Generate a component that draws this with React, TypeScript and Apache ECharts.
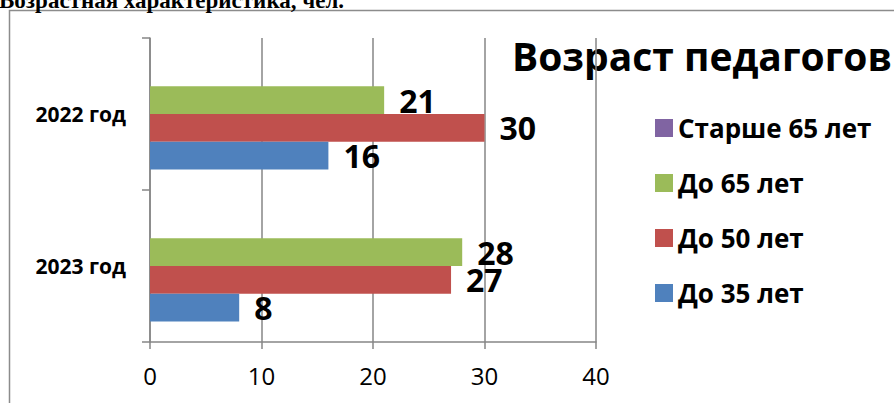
import React, { useEffect, useRef } from 'react';
import * as echarts from 'echarts';

const categories = ['2023 год', '2022 год'];
const seriesNames = ['Старше 65 лет', 'До 65 лет', 'До 50 лет', 'До 35 лет'];
const over65: (number | null)[] = [null, null];
const upTo65: (number | null)[] = [28, 21];
const upTo50: (number | null)[] = [27, 30];
const upTo35: (number | null)[] = [8, 16];
const seriesColors = ['#8064A2', '#9BBB59', '#C0504D', '#4F81BD'];
const legendOrder = ['Старше 65 лет', 'До 65 лет', 'До 50 лет', 'До 35 лет'];
const xMin = 0;
const xMax = 40;
const xInterval = 10;
const chartTitle = 'Возраст педагогов';
const pageHeading = 'Возрастная характеристика, чел.';

const FONT = '"Open Sans", sans-serif';
const GRAY = '#868686';

export default function App() {
  const ref = useRef<HTMLDivElement>(null);

  useEffect(() => {
    if (!ref.current) return;
    const chart = echarts.init(ref.current, null, { renderer: 'svg' });
    const seriesData = [over65, upTo65, upTo50, upTo35];
    chart.setOption({
      animation: false,
      backgroundColor: '#ffffff',
      grid: { left: 150, right: 298, top: 38, bottom: 61, containLabel: false },
      legend: {
        orient: 'vertical',
        left: 650,
        top: 110,
        itemWidth: 18,
        itemHeight: 18,
        itemGap: 29,
        icon: 'rect',
        data: legendOrder,
        textStyle: {
          fontFamily: FONT,
          fontWeight: 'bold',
          fontSize: 26,
          lineHeight: 24,
          color: '#000',
        },
      },
      xAxis: {
        type: 'value',
        min: xMin,
        max: xMax,
        interval: xInterval,
        axisLine: { show: true, lineStyle: { color: GRAY, width: 1.5 } },
        axisTick: { show: true, length: 7, lineStyle: { color: GRAY, width: 1.5 } },
        splitLine: { show: true, lineStyle: { color: GRAY, width: 1.5 } },
        axisLabel: { fontFamily: FONT, fontSize: 24, color: '#000', margin: 21 },
      },
      yAxis: {
        type: 'category',
        data: categories,
        axisLine: { show: true, lineStyle: { color: GRAY, width: 1.5 } },
        axisTick: { show: true, length: 8, lineStyle: { color: GRAY, width: 1.5 } },
        splitLine: { show: false },
        axisLabel: {
          fontFamily: FONT,
          fontWeight: 'bold',
          fontSize: 21,
          color: '#000',
          margin: 24,
        },
      },
      series: seriesData.map((d, i) => ({
        name: seriesNames[i],
        type: 'bar',
        data: d,
        barWidth: 27.7,
        barGap: '0%',
        itemStyle: { color: seriesColors[i] },
        label: {
          show: true,
          position: 'right',
          distance: 15,
          fontFamily: FONT,
          fontWeight: 'bold',
          fontSize: 32,
          color: '#000',
        },
      })),
      graphic: [
        {
          type: 'rect',
          silent: true,
          z: -10,
          shape: { x: 9.5, y: 10.5, width: 1000, height: 500 },
          style: { fill: 'none', stroke: '#8c8c8c', lineWidth: 1.5 },
        },
        {
          type: 'text',
          silent: true,
          style: {
            text: pageHeading,
            x: -1,
            y: 0,
            verticalAlign: 'middle',
            font: 'bold 23px "Liberation Serif", serif',
            fill: '#000',
          },
        },
        {
          type: 'text',
          silent: true,
          style: {
            text: chartTitle,
            x: 512,
            y: 55,
            verticalAlign: 'middle',
            font: 'bold 39px "Open Sans", sans-serif',
            fill: '#000',
          },
        },
      ],
    });
    return () => chart.dispose();
  }, []);

  return (
    <div
      ref={ref}
      style={{ position: 'absolute', left: 0, top: 0, width: 894, height: 403 }}
    />
  );
}
